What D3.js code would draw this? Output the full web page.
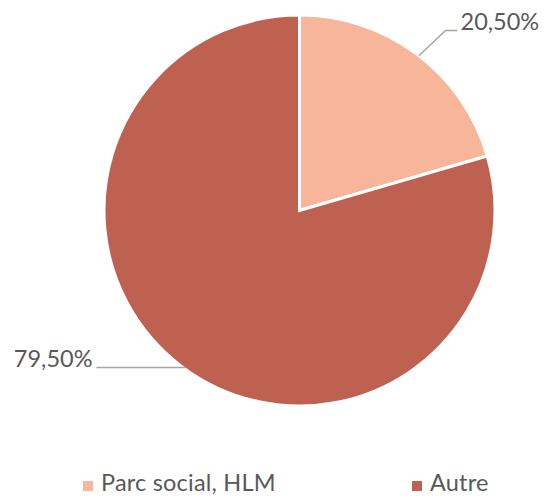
<!DOCTYPE html>
<html>
<head>
<meta charset="utf-8">
<script src="https://cdn.jsdelivr.net/npm/d3@7"></script>
<style>
  html, body { margin: 0; padding: 0; background: #fff; }
  svg { display: block; }
  text { font-family: Lato, "Open Sans", sans-serif; fill: #595959; }
</style>
</head>
<body>
<svg id="chart" width="544" height="497"></svg>
<script>
// Répartition du parc de logements
const categories = ["Parc social, HLM", "Autre"];
const values = [20.5, 79.5];
const colors = ["#F7B599", "#BE6150"];
const labels = ["20,50%", "79,50%"];

const svg = d3.select("#chart");
const cx = 299.5, cy = 210.5, radius = 195.5;

const pie = d3.pie().sort(null).value(d => d)(values);
const arc = d3.arc().innerRadius(0).outerRadius(radius);

const g = svg.append("g").attr("transform", `translate(${cx},${cy})`);

g.selectAll("path.slice")
  .data(pie)
  .join("path")
  .attr("class", "slice")
  .attr("d", arc)
  .attr("fill", (d, i) => colors[i])
  .attr("stroke", "#fff")
  .attr("stroke-width", 3)
  .attr("stroke-linejoin", "miter");

// Leader lines (rim point, optional elbow, end) and value labels
const leaders = [
  { angleFrac: 0.51, elbow: [146, -180], end: [158, -180], anchor: "start", dx: 3 },
  { rimY: 157, end: [-203, 157], anchor: "end", dx: -4 }
];

pie.forEach((d, i) => {
  const L = leaders[i];
  let pts;
  if (L.angleFrac !== undefined) {
    const a = d.startAngle + (d.endAngle - d.startAngle) * L.angleFrac;
    const p0 = [Math.sin(a) * radius, -Math.cos(a) * radius];
    pts = [p0, L.elbow, L.end];
  } else {
    const y = L.rimY;
    const p0 = [-Math.sqrt(radius * radius - y * y) + 2, y];
    pts = [p0, L.end];
  }
  g.append("path")
    .attr("d", d3.line()(pts))
    .attr("fill", "none")
    .attr("stroke", "#A6A6A6")
    .attr("stroke-width", 1.5);
  g.append("text")
    .attr("x", L.end[0] + L.dx)
    .attr("y", L.end[1] - 1)
    .attr("text-anchor", L.anchor)
    .attr("font-size", 23.5)
    .text(labels[i]);
});

// Legend
const legendX = [83, 412];
const legend = svg.append("g");
categories.forEach((c, i) => {
  legend.append("rect")
    .attr("x", legendX[i]).attr("y", 481)
    .attr("width", 10).attr("height", 10)
    .attr("fill", colors[i]);
  legend.append("text")
    .attr("x", legendX[i] + 18).attr("y", 491)
    .attr("font-size", 23.5)
    .attr("letter-spacing", 0.2)
    .text(c);
});
</script>
</body>
</html>
